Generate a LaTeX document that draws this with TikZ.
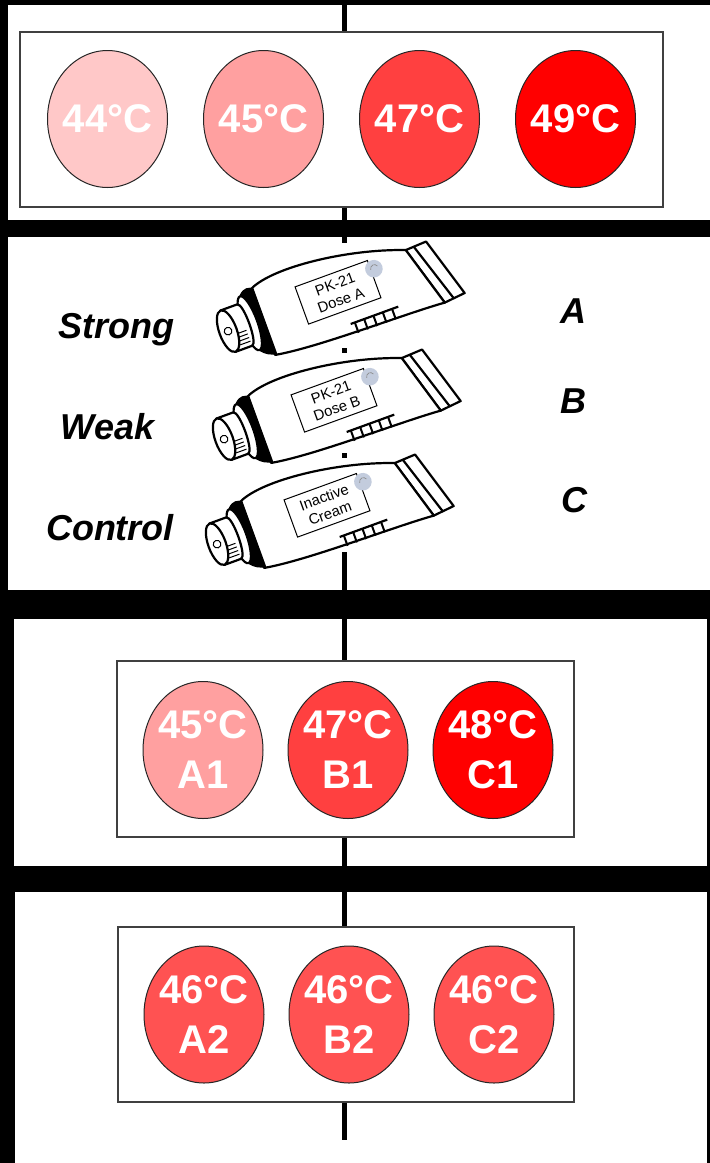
\documentclass[tikz,border=0pt]{standalone}
\usepackage{fontspec}
\setmainfont{Liberation Sans}
\usetikzlibrary{shapes.geometric,positioning}

\definecolor{heat44}{HTML}{FFC8C8}
\definecolor{heat45}{HTML}{FFA0A0}
\definecolor{heat46}{HTML}{FF5252}
\definecolor{heat47}{HTML}{FF4040}
\definecolor{heat49}{HTML}{FF0000}
\definecolor{logo}{HTML}{C3CCDD}

\tikzset{
  rowbox/.style={draw=black!75, line width=1.5pt, fill=white, inner sep=0pt},
  reading/.style={ellipse, draw=black!85, line width=1pt, minimum width=120pt,
    minimum height=137pt, inner xsep=-4pt, inner ysep=0pt, text=white, align=center,
    font=\fontsize{40}{50}\selectfont\bfseries},
  spine/.style={line width=5pt},
  strength/.style={anchor=base, font=\fontsize{36}{40}\selectfont\bfseries\itshape},
  tubeline/.style={line width=2.2pt, line join=round},
  pics/creamtube/.style n args={2}{code={
    % crimped end
    \draw[tubeline, fill=white] (64,-25) -- (84,-26) -- (101,30) -- (81,32) -- cycle;
    \draw[tubeline] (72,-25) -- (90,31);
    % body
    \draw[tubeline, fill=white] (-80,-40) .. controls (-55,-52) and (15,-44) .. (64,-25)
      -- (81,32) .. controls (40,29) and (-40,31) .. (-80,24)
      .. controls (-85,5) and (-85,-20) .. cycle;
    % shoulder
    \fill (-92,-38) .. controls (-86,-44) and (-82,-42) .. (-78,-40) -- (-78,24)
      .. controls (-84,23) and (-89,20) .. (-92,16) -- cycle;
    % collar and cap
    \draw[tubeline, fill=white] (-92,-11) ellipse [x radius=7, y radius=26];
    \draw[tubeline, fill=white] (-113,-31) -- (-97,-31) .. controls (-91,-31) and (-91,9) .. (-97,9) -- (-113,9);
    \foreach \v in {-6,-2.5,...,7} \draw[line width=1pt] (-108,\v) -- (-97,\v);
    \draw[tubeline, fill=white] (-113,-11) ellipse [x radius=8, y radius=20];
    \draw[line width=1pt] (-113,-11) circle [radius=3.5];
    % label
    \draw[line width=1pt, fill=white] (-42,-28) -- (28,-28) -- (28,8) -- (-42,8) -- cycle;
    \node[transform shape, align=center, font=\fontsize{13.5}{15.5}\selectfont] at (-7,-10) {#1\\#2};
    \fill[logo] (31,-19) circle [radius=8];
    \draw[black!45, line width=0.7pt] (28,-19) arc [start angle=180, end angle=340, radius=3.5];
    % ridges
    \draw[tubeline] (-6,21) -- (40,21);
    \foreach \u in {-2,7,...,38} \draw[line width=2pt] (\u,21) -- (\u,31);
  }}
}

\begin{document}
\begin{tikzpicture}[x=1pt,y=-1pt]
\useasboundingbox (0,0) rectangle (710,1163);
\fill[black] (0,0) rectangle (710,1163);
\fill[white] (8,5) rectangle (710,220);
\fill[white] (8,237) rectangle (710,590);
\fill[white] (14,619) rectangle (707,866);
\fill[white] (15,892) rectangle (707,1163);

% reference scale
\node[rowbox, minimum width=643pt, minimum height=175pt] (box1) at (341.5,119.5) {};
\node[reading, fill=heat44] (t44) at (107.5,119) {44°C};
\node[reading, fill=heat45, right=35pt of t44] (t45) {45°C};
\node[reading, fill=heat47, right=35pt of t45] (t47) {47°C};
\node[reading, fill=heat49, right=35pt of t47] (t49) {49°C};
\draw[spine] (344.5,0) -- (344.5,0 |- box1.north);
\draw[spine] (344.5,0 |- box1.south) -- (344.5,220);

% creams
\draw[spine] (344.5,237) -- (344.5,243);
\draw[spine] (344.5,348) -- (344.5,353);
\draw[spine] (344.5,453) -- (344.5,458);
\draw[spine] (344.5,552) -- (344.5,590);
\pic[rotate=20, scale=1.1] at (349,300) {creamtube={PK-21}{Dose A}};
\pic[rotate=20, scale=1.1] at (345,408) {creamtube={PK-21}{Dose B}};
\pic[rotate=20, scale=1.1] at (338,513) {creamtube={Inactive}{Cream}};
\node[strength] (strong) at (116.5,338) {Strong};
\node[strength] (weak) at (107.5,439.5) {Weak};
\node[strength] (control) at (110,540) {Control};
\node[strength] (doseA) at (573,323) {A};
\node[strength] (doseB) at (573,413) {B};
\node[strength] (doseC) at (574,512) {C};

% first reading
\node[rowbox, minimum width=457pt, minimum height=176pt] (box3) at (345.5,749) {};
\node[reading, fill=heat45] (a1) at (203,750) {45°C\\A1};
\node[reading, fill=heat47, right=24pt of a1] (b1) {47°C\\B1};
\node[reading, fill=heat49, right=24pt of b1] (c1) {48°C\\C1};
\draw[spine] (344.5,619) -- (344.5,0 |- box3.north);
\draw[spine] (344.5,0 |- box3.south) -- (344.5,866);

% second reading
\node[rowbox, minimum width=456pt, minimum height=175pt] (box4) at (346,1014.5) {};
\node[reading, fill=heat46] (a2) at (204,1014.5) {46°C\\A2};
\node[reading, fill=heat46, right=24pt of a2] (b2) {46°C\\B2};
\node[reading, fill=heat46, right=24pt of b2] (c2) {46°C\\C2};
\draw[spine] (344.5,892) -- (344.5,0 |- box4.north);
\draw[spine] (344.5,0 |- box4.south) -- (344.5,1140);
\end{tikzpicture}
\end{document}
